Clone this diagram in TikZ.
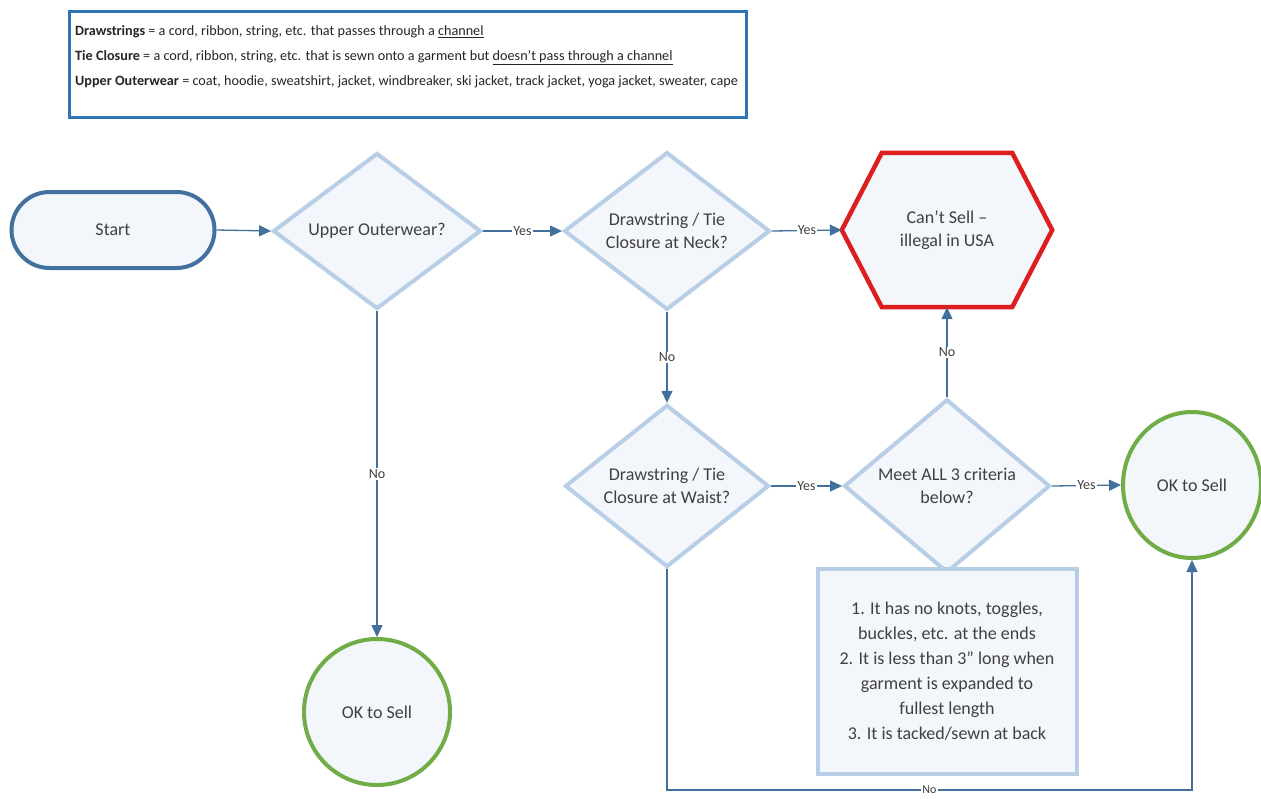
\documentclass[tikz,border=0pt]{standalone}
\usepackage{fontspec}
\setmainfont{Carlito}
\usetikzlibrary{shapes.geometric,arrows.meta,calc,backgrounds}
\definecolor{boxblue}{RGB}{46,117,182}
\definecolor{startblue}{RGB}{65,113,156}
\definecolor{dialight}{RGB}{184,206,230}
\definecolor{fillpale}{RGB}{243,246,251}
\definecolor{hexred}{RGB}{222,30,30}
\definecolor{okgreen}{RGB}{112,173,71}
\definecolor{linkblue}{RGB}{66,112,156}
\definecolor{txt}{RGB}{64,64,64}
\definecolor{deftxt}{RGB}{38,38,38}
\begin{document}
\begin{tikzpicture}[x=1pt,y=1pt,
  every node/.style={text=txt},
  shapefont/.style={font=\fontsize{18}{23}\selectfont},
  lbl/.style={font=\fontsize{14}{15}\selectfont, fill=white, inner sep=1pt},
  link/.style={draw=linkblue, line width=1.3pt, -{Triangle[length=12pt,width=11pt]}},
  dec/.style={diamond, draw=dialight, line width=4pt, fill=fillpale, minimum width=208pt,
    minimum height=156pt, inner sep=0pt, align=center, shapefont},
  startbox/.style={rectangle, rounded corners=38pt, draw=startblue, line width=4pt, fill=fillpale,
    minimum width=203pt, minimum height=76pt, shapefont},
  okbox/.style={ellipse, draw=okgreen, line width=4pt, fill=fillpale, inner sep=0pt, shapefont},
  critbox/.style={rectangle, draw=dialight, line width=4pt, fill=fillpale, minimum width=259pt,
    minimum height=205pt, align=center, font=\fontsize{18}{25}\selectfont},
  hexbox/.style={rectangle, minimum width=210pt, minimum height=154pt, inner sep=0pt, align=center, shapefont}
]
\begin{scope}[on background layer]
\path[fill=white] (0,0) rectangle (1261,-798);
\end{scope}
\useasboundingbox (0,0) rectangle (1261,-798);

% definitions box
\node[draw=boxblue, line width=3pt, minimum width=677pt, minimum height=106pt, anchor=north west, inner sep=0pt] (defbox) at (68,-10) {};
\node[anchor=north west, align=left, inner sep=0pt, text=deftxt, font=\fontsize{14.2}{25}\selectfont] (deftext) at (75,-25.5)
 {\textbf{Drawstrings} = a cord, ribbon, string, etc. that passes through a \underline{channel}\\
  \textbf{Tie Closure} = a cord, ribbon, string, etc. that is sewn onto a garment but \underline{doesn\char39 t pass through a channel}\\
  \textbf{Upper Outerwear} = coat, hoodie, sweatshirt, jacket, windbreaker, ski jacket, track jacket, yoga jacket, sweater, cape};

% shapes
\node[startbox] (start) at (113,-230) {Start};
\node[dec] (d1) at (377,-231) {Upper Outerwear?};
\node[dec, minimum width=206pt] (d2) at (667,-231) {Drawstring / Tie\\Closure at Neck?};
\node[hexbox] (hex) at (947,-230) {Can’t Sell --\\illegal in USA};
\begin{scope}[on background layer]
\draw[hexred, line width=4.5pt, fill=fillpale, line join=miter]
  (hex.west) -- ($(hex.north west)+(40,0)$) -- ($(hex.north east)+(-40,0)$) -- (hex.east)
  -- ($(hex.south east)+(-40,0)$) -- ($(hex.south west)+(40,0)$) -- cycle;
\end{scope}
\node[dec, minimum width=204pt, minimum height=154pt] (d3) at (667,-486) {Drawstring / Tie\\Closure at Waist?};
\node[dec, minimum width=206pt, minimum height=154pt] (d4) at (947,-486) {Meet ALL 3 criteria\\below?};
\node[okbox, minimum width=138pt, minimum height=146pt] (ok2) at (1192,-485) {OK to Sell};
\node[okbox, minimum width=146pt, minimum height=146pt] (ok1) at (377,-712) {OK to Sell};
\node[critbox] (crit) at (947,-671) {1. It has no knots, toggles,\\buckles, etc. at the ends\\2. It is less than 3\char34\ long when\\garment is expanded to\\fullest length\\3. It is tacked/sewn at back};

% connectors
\draw[link] (start.east) -- (d1.west);
\draw[link] (d1.east) -- node[lbl] {Yes} (d2.west);
\draw[link] (d2.east) -- node[lbl] {Yes} (hex.west);
\draw[link] (d2.south) -- node[lbl] {No} (d3.north);
\draw[link] (d3.east) -- node[lbl] {Yes} (d4.west);
\draw[link] (d4.east) -- node[lbl] {Yes} (ok2.west);
\draw[link] (d4.north) -- node[lbl] {No} (hex.south);
\draw[link] (d1.south) -- node[lbl] {No} (ok1.north);
\coordinate (bl) at (667,-790);
\coordinate (br) at (1192,-790);
\draw[link] (d3.south) -- (bl) -- node[lbl, font=\fontsize{12}{13}\selectfont, inner sep=1pt] {No} (br) -- (ok2.south);
\end{tikzpicture}
\end{document}
